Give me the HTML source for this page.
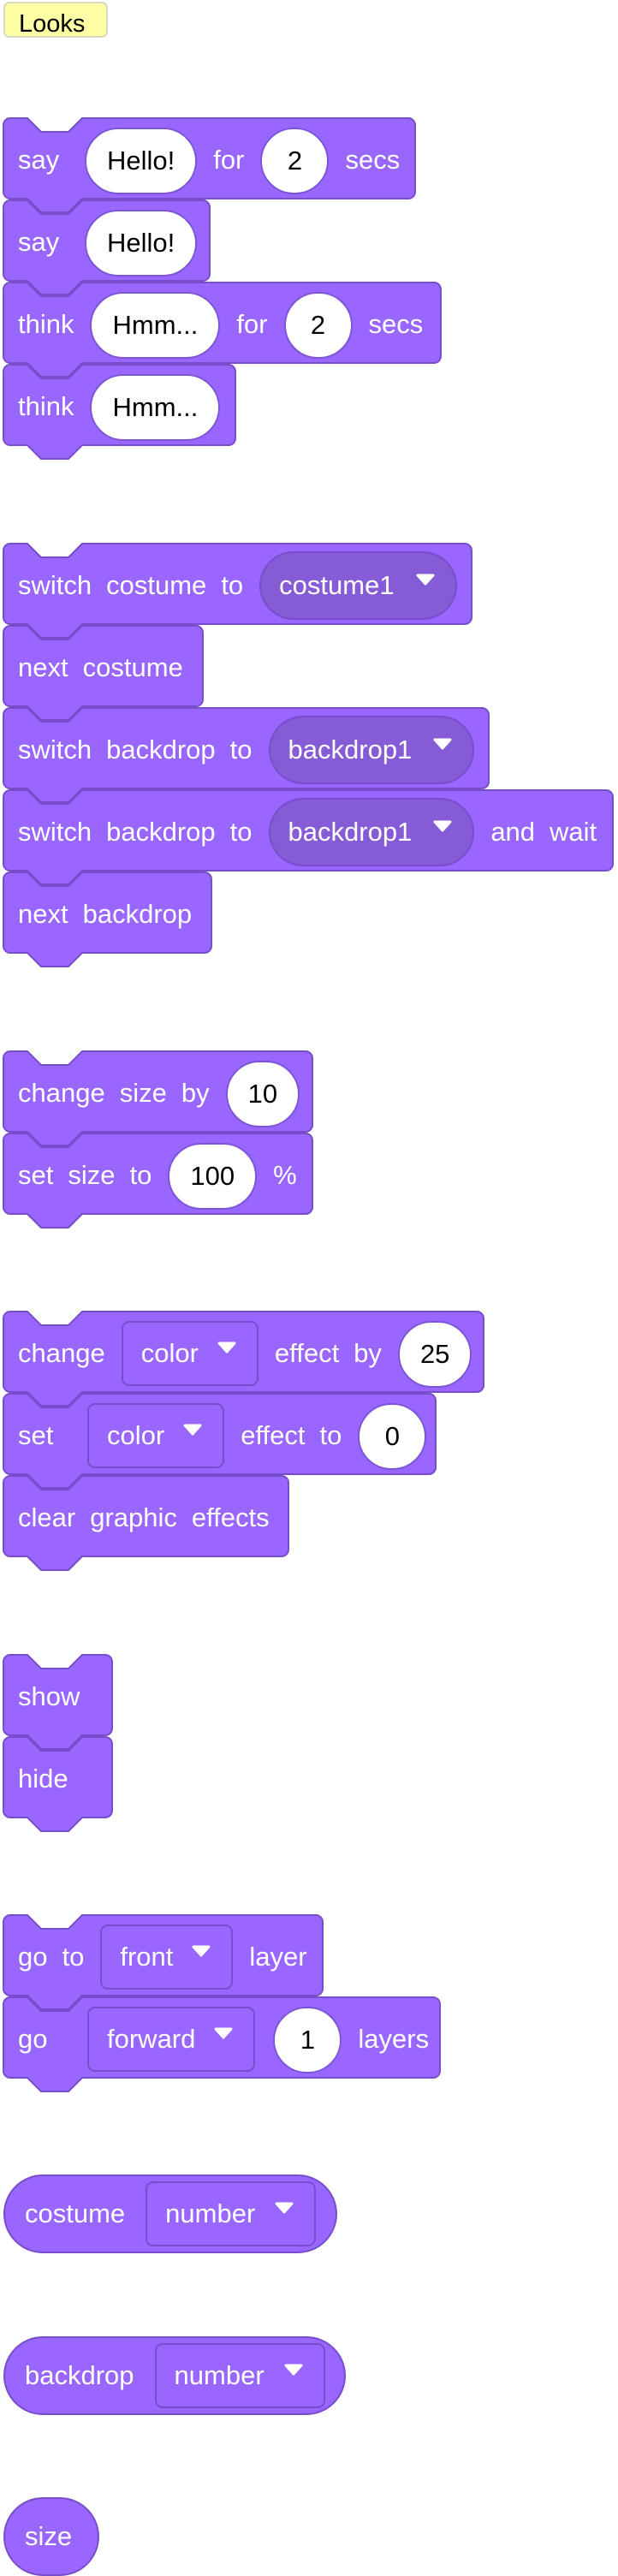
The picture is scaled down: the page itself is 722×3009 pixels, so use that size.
<!DOCTYPE html>
<html><head><meta charset="utf-8"><style>
html,body{margin:0;padding:0;background:#fff;}
body{width:722px;height:3001px;position:relative;overflow:hidden;font-family:"Liberation Sans",Arial,sans-serif;}
.lbl{position:absolute;left:4px;top:2px;width:118px;height:38px;background:#ffffa5;border:2px solid #d8d8c0;border-radius:7px;font-size:29px;color:#000;box-sizing:content-box;overflow:hidden;}
.lbl span{position:absolute;left:16px;top:9px;line-height:31px;}
.blk{position:absolute;left:3px;height:96px;}
.blk svg.bg{position:absolute;left:0;top:0;overflow:visible;}
.row{position:relative;display:flex;align-items:center;height:96px;padding:4px 0 0 18px;box-sizing:border-box;gap:17px;font-size:31px;color:#fff;white-space:nowrap;}
.row>.w1{min-width:59px;}
.pill,.rdd,.sdd{margin:0 2px;}
.pill{height:78px;box-sizing:border-box;border-radius:39px;background:#fff;border:2px solid #7c55d6;padding:0 24px;min-width:80px;display:flex;align-items:center;justify-content:center;color:#000;margin-top:2px;}
.rdd{height:80px;box-sizing:border-box;border-radius:40px;background:#855cd6;border:2px solid #774dcb;padding:0 24px 0 21px;display:flex;align-items:center;gap:25px;color:#fff;}
.sdd{height:76px;box-sizing:border-box;border-radius:9px;background:#9966ff;border:2px solid #774dcb;padding:0 24px 0 21px;display:flex;align-items:center;gap:22px;color:#fff;}
.arr{width:22px;height:14px;display:block;margin-top:-14px;}
.rep{position:absolute;left:4px;height:92px;box-sizing:border-box;border-radius:46px;background:#9966ff;border:2px solid #774dcb;display:flex;align-items:center;gap:22px;padding-left:23px;font-size:31px;color:#fff;white-space:nowrap;}
</style></head><body>
<div class="lbl"><span>Looks</span></div>

<!-- group 1 -->
<div class="blk" style="top:137px;width:483px"><div class="row"><span class="w1">say</span><span class="pill">Hello!</span><span>for</span><span class="pill">2</span><span>secs</span></div></div>
<div class="blk" style="top:233px;width:243px"><div class="row"><span class="w1">say</span><span class="pill">Hello!</span></div></div>
<div class="blk" style="top:329px;width:513px"><div class="row"><span class="w1">think</span><span class="pill">Hmm...</span><span>for</span><span class="pill">2</span><span>secs</span></div></div>
<div class="blk" style="top:425px;width:273px"><div class="row"><span class="w1">think</span><span class="pill">Hmm...</span></div></div>

<!-- group 2 -->
<div class="blk" style="top:634px;width:549px"><div class="row"><span>switch</span><span>costume</span><span>to</span><span class="rdd">costume1<svg class="arr" viewBox="0 0 22 14"><path d="M2 2 H20 L11 12 Z" fill="#fff" stroke="#fff" stroke-width="3" stroke-linejoin="round"/></svg></span></div></div>
<div class="blk" style="top:730px;width:235px"><div class="row"><span>next</span><span>costume</span></div></div>
<div class="blk" style="top:826px;width:569px"><div class="row"><span>switch</span><span>backdrop</span><span>to</span><span class="rdd">backdrop1<svg class="arr" viewBox="0 0 22 14"><path d="M2 2 H20 L11 12 Z" fill="#fff" stroke="#fff" stroke-width="3" stroke-linejoin="round"/></svg></span></div></div>
<div class="blk" style="top:922px;width:714px"><div class="row"><span>switch</span><span>backdrop</span><span>to</span><span class="rdd">backdrop1<svg class="arr" viewBox="0 0 22 14"><path d="M2 2 H20 L11 12 Z" fill="#fff" stroke="#fff" stroke-width="3" stroke-linejoin="round"/></svg></span><span>and</span><span>wait</span></div></div>
<div class="blk" style="top:1018px;width:245px"><div class="row"><span>next</span><span>backdrop</span></div></div>

<!-- group 3 -->
<div class="blk" style="top:1227px;width:363px"><div class="row"><span>change</span><span>size</span><span>by</span><span class="pill">10</span></div></div>
<div class="blk" style="top:1323px;width:363px"><div class="row"><span>set</span><span>size</span><span>to</span><span class="pill">100</span><span>%</span></div></div>

<!-- group 4 -->
<div class="blk" style="top:1531px;width:563px"><div class="row"><span class="w1">change</span><span class="sdd">color<svg class="arr" viewBox="0 0 22 14"><path d="M2 2 H20 L11 12 Z" fill="#fff" stroke="#fff" stroke-width="3" stroke-linejoin="round"/></svg></span><span>effect</span><span>by</span><span class="pill">25</span></div></div>
<div class="blk" style="top:1627px;width:507px"><div class="row"><span class="w1" style="min-width:62px">set</span><span class="sdd">color<svg class="arr" viewBox="0 0 22 14"><path d="M2 2 H20 L11 12 Z" fill="#fff" stroke="#fff" stroke-width="3" stroke-linejoin="round"/></svg></span><span>effect</span><span>to</span><span class="pill">0</span></div></div>
<div class="blk" style="top:1723px;width:335px"><div class="row"><span>clear</span><span>graphic</span><span>effects</span></div></div>

<!-- group 5 -->
<div class="blk" style="top:1932px;width:129px"><div class="row"><span>show</span></div></div>
<div class="blk" style="top:2028px;width:129px"><div class="row"><span>hide</span></div></div>

<!-- group 6 -->
<div class="blk" style="top:2236px;width:375px"><div class="row"><span>go</span><span>to</span><span class="sdd">front<svg class="arr" viewBox="0 0 22 14"><path d="M2 2 H20 L11 12 Z" fill="#fff" stroke="#fff" stroke-width="3" stroke-linejoin="round"/></svg></span><span>layer</span></div></div>
<div class="blk" style="top:2332px;width:512px"><div class="row"><span class="w1" style="min-width:62px">go</span><span class="sdd">forward<svg class="arr" viewBox="0 0 22 14"><path d="M2 2 H20 L11 12 Z" fill="#fff" stroke="#fff" stroke-width="3" stroke-linejoin="round"/></svg></span><span class="pill">1</span><span>layers</span></div></div>

<!-- reporters -->
<div class="rep" style="top:2540px;width:390px"><span>costume</span><span class="sdd" style="width:199px;justify-content:space-between">number<svg class="arr" viewBox="0 0 22 14"><path d="M2 2 H20 L11 12 Z" fill="#fff" stroke="#fff" stroke-width="3" stroke-linejoin="round"/></svg></span></div>
<div class="rep" style="top:2729px;width:400px"><span>backdrop</span><span class="sdd" style="width:199px;justify-content:space-between">number<svg class="arr" viewBox="0 0 22 14"><path d="M2 2 H20 L11 12 Z" fill="#fff" stroke="#fff" stroke-width="3" stroke-linejoin="round"/></svg></span></div>
<div class="rep" style="top:2917px;width:112px"><span>size</span></div>

<script>
var NS='http://www.w3.org/2000/svg';
var blocks=document.querySelectorAll('.blk');
for(var i=0;i<blocks.length;i++){
  var b=blocks[i];
  var w=parseFloat(b.style.width)-2, h=94;
  var svg=document.createElementNS(NS,'svg');
  svg.setAttribute('class','bg');
  svg.setAttribute('width',w+2);
  svg.setAttribute('height',h+20);
  
  
  var p=document.createElementNS(NS,'path');
  var d='M1 9 a8 8 0 0 1 8 -8 H29 L45 17 H77 L93 1 H'+(w-7)+' a8 8 0 0 1 8 8 V'+(h-7)+' a8 8 0 0 1 -8 8 H93 L77 '+(h+17)+' H45 L29 '+(h+1)+' H9 a8 8 0 0 1 -8 -8 Z';
  p.setAttribute('d',d);
  p.setAttribute('fill','#9966ff');
  p.setAttribute('stroke','#774dcb');
  p.setAttribute('stroke-width','2');
  
  
  svg.appendChild(p);
  b.insertBefore(svg,b.firstChild);
}
</script>
</body></html>
